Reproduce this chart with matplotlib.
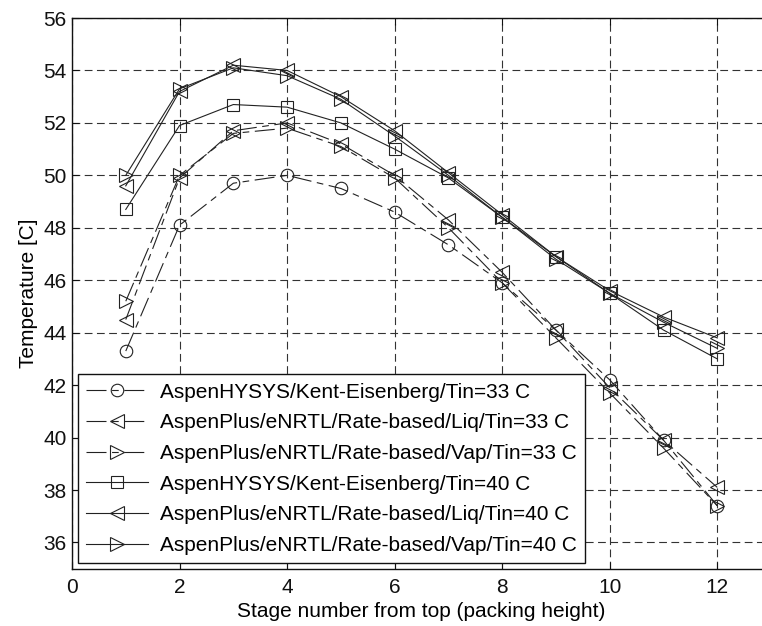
import matplotlib
matplotlib.use("Agg")
import matplotlib.pyplot as plt

plt.rcParams['font.family'] = ['Liberation Sans', 'DejaVu Sans']

stages = [1, 2, 3, 4, 5, 6, 7, 8, 9, 10, 11, 12]

hysys_33 = [43.3, 48.1, 49.7, 50.0, 49.5, 48.6, 47.35, 45.9, 44.1, 42.2, 39.9, 37.4]
liq_33 = [44.5, 49.9, 51.7, 52.0, 51.2, 50.0, 48.3, 46.3, 44.1, 41.9, 39.9, 38.1]
vap_33 = [45.2, 50.0, 51.6, 51.8, 51.1, 49.9, 48.0, 45.9, 43.8, 41.7, 39.6, 37.4]
hysys_40 = [48.7, 51.9, 52.7, 52.6, 52.0, 51.0, 49.9, 48.4, 46.9, 45.5, 44.1, 43.0]
liq_40 = [49.6, 53.2, 54.2, 54.0, 53.0, 51.7, 50.1, 48.5, 46.9, 45.6, 44.6, 43.8]
vap_40 = [50.0, 53.3, 54.1, 53.8, 52.9, 51.5, 50.0, 48.4, 46.8, 45.5, 44.4, 43.4]

labels = [
    "AspenHYSYS/Kent-Eisenberg/Tin=33 C",
    "AspenPlus/eNRTL/Rate-based/Liq/Tin=33 C",
    "AspenPlus/eNRTL/Rate-based/Vap/Tin=33 C",
    "AspenHYSYS/Kent-Eisenberg/Tin=40 C",
    "AspenPlus/eNRTL/Rate-based/Liq/Tin=40 C",
    "AspenPlus/eNRTL/Rate-based/Vap/Tin=40 C",
]
x_ticks = [0, 2, 4, 6, 8, 10, 12]
y_ticks = [36, 38, 40, 42, 44, 46, 48, 50, 52, 54, 56]

series = [hysys_33, liq_33, vap_33, hysys_40, liq_40, vap_40]
markers = ['o', '<', '>', 's', '<', '>']
dashdot = (0, (18, 5, 6, 5))
styles = [dashdot, dashdot, dashdot, '-', '-', '-']

W, H = 762, 626
fig = plt.figure(figsize=(W / 100, H / 100), dpi=100)
left, top, bottom = 72, 18, 568.7
pxu = (717.3 - 72) / 12.0
ax = fig.add_axes([left / W, (H - bottom) / H, 13 * pxu / W, (bottom - top) / H])

lc = '#222222'
for ys, m, ls, lab in zip(series, markers, styles, labels):
    ax.plot(stages, ys, color=lc, linestyle=ls, linewidth=0.8,
            marker=m, markersize=10 if m in '<>' else 9,
            markerfacecolor='none', markeredgecolor=lc, markeredgewidth=0.8,
            label=lab)

ax.set_xlim(0, 13)
ax.set_ylim(35, 56)
ax.set_xticks(x_ticks)
ax.set_yticks(y_ticks)
ax.grid(True, color='#333333', linestyle=(0, (7, 4)), linewidth=0.8)
ax.tick_params(direction='in', top=True, right=True, length=5, width=0.8,
               labelsize=15, colors='#111111')
ax.tick_params(axis='x', pad=7)
ax.tick_params(axis='y', pad=4)
for s in ax.spines.values():
    s.set_linewidth(1.0)
    s.set_color('#111111')

ax.set_xlabel("Stage number from top (packing height)", fontsize=15, labelpad=3)
ax.set_ylabel("Temperature [C]", fontsize=15, labelpad=4)

leg = ax.legend(loc='lower left', bbox_to_anchor=(0.008, 0.01), fontsize=15,
                handlelength=3.0, handletextpad=0.55, labelspacing=0.56,
                borderpad=0.4, borderaxespad=0, fancybox=False, framealpha=1,
                edgecolor='#111111')
leg.get_frame().set_linewidth(1.0)

fig.savefig("out.png", dpi=100)
